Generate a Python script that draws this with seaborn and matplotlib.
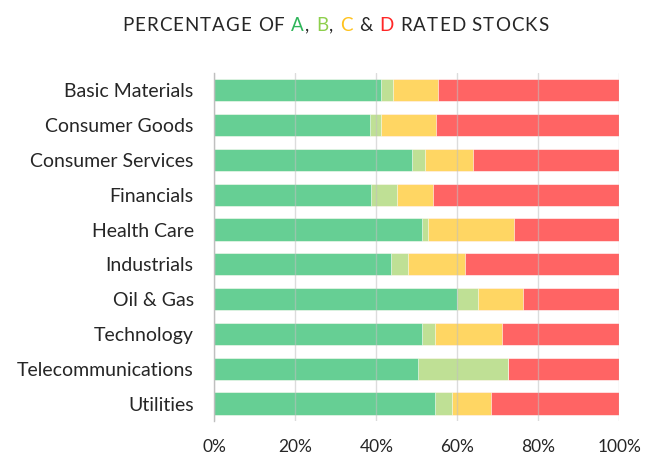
import numpy as np
import pandas as pd
import matplotlib
matplotlib.use("Agg")
import matplotlib.pyplot as plt
import seaborn as sns

# data (percent of stocks per rating)
sectors = ['Basic Materials', 'Consumer Goods', 'Consumer Services', 'Financials',
           'Health Care', 'Industrials', 'Oil & Gas', 'Technology',
           'Telecommunications', 'Utilities']
rated_a = [41.2, 38.3, 48.7, 38.7, 51.2, 43.7, 60.0, 51.2, 50.2, 54.5]
rated_b = [3.0, 2.9, 3.4, 6.4, 1.4, 4.0, 5.0, 3.3, 22.2, 4.1]
rated_c = [10.9, 13.4, 11.8, 8.9, 21.3, 14.2, 11.3, 16.4, 0.0, 9.8]
rated_d = [44.9, 45.4, 36.1, 46.0, 26.1, 38.1, 23.7, 29.1, 27.6, 31.6]
x_ticks = [0, 20, 40, 60, 80, 100]

green = '#66cf94'
light_green = '#bfe095'
yellow = '#ffd663'
red = '#ff6464'

sns.set_style('white')
plt.rcParams['font.family'] = ['Lato', 'DejaVu Sans']

df = pd.DataFrame({'sector': sectors, 'A': rated_a, 'B': rated_b,
                   'C': rated_c, 'D': rated_d})
# cumulative ends so the bars stack
df['end_a'] = df['A']
df['end_b'] = df['end_a'] + df['B']
df['end_c'] = df['end_b'] + df['C']
df['end_d'] = df['end_c'] + df['D']

fig = plt.figure(figsize=(6.49, 4.58), dpi=100)
ax = fig.add_axes([0.3305, 0.0808, 0.624, 0.76])

for col, color in [('end_d', red), ('end_c', yellow), ('end_b', light_green), ('end_a', green)]:
    sns.barplot(data=df, x=col, y='sector', color=color, width=0.64,
                edgecolor='white', linewidth=0.4, saturation=1, ax=ax)

ax.set_xlim(0, 100)
ax.set_ylim(9.5, -0.5)
ax.set_xticks(x_ticks)
ax.set_xticklabels([f'{t}%' for t in x_ticks])
ax.set_xlabel('')
ax.set_ylabel('')
ax.grid(axis='x', color='#c0c0c0', linewidth=1, alpha=0.55)
ax.set_axisbelow(False)
for s in ['top', 'right', 'bottom']:
    ax.spines[s].set_visible(False)
ax.spines['left'].set_color('#bfbfbf')
ax.spines['left'].set_linewidth(1)
ax.tick_params(axis='y', length=0, pad=15, labelsize=14, labelcolor='#262626')
ax.tick_params(axis='x', length=0, pad=13, labelsize=12.5, labelcolor='#262626')

# multi coloured title, letter by letter for the wide spacing
pieces = [('PERCENTAGE OF ', '#262626'), ('A', '#2fb55a'), (', ', '#262626'),
          ('B', '#8dcf4c'), (', ', '#262626'), ('C', '#ffc21c'), (' & ', '#262626'),
          ('D', '#ff2727'), (' RATED STOCKS', '#262626')]
renderer = fig.canvas.get_renderer()
chars = []
for txt, c in pieces:
    for ch in txt:
        t = fig.text(0, 0.945, ch, color=c, fontsize=13.5, va='center', ha='left')
        chars.append(t)
space_w = fig.text(0, 0, 'a a', fontsize=13.5).get_window_extent(renderer).width - \
    fig.text(0, 0, 'aa', fontsize=13.5).get_window_extent(renderer).width
for t in fig.texts[-2:]:
    t.remove()
widths = []
for t in chars:
    if t.get_text() == ' ':
        widths.append(space_w)
    else:
        widths.append(t.get_window_extent(renderer).width)
gap = 1.0
total = sum(widths) + gap * (len(chars) - 1)
x = 335 - total / 2
for t, w in zip(chars, widths):
    t.set_x(x / fig.bbox.width)
    x += w + gap

fig.savefig('out.png', dpi=100)
